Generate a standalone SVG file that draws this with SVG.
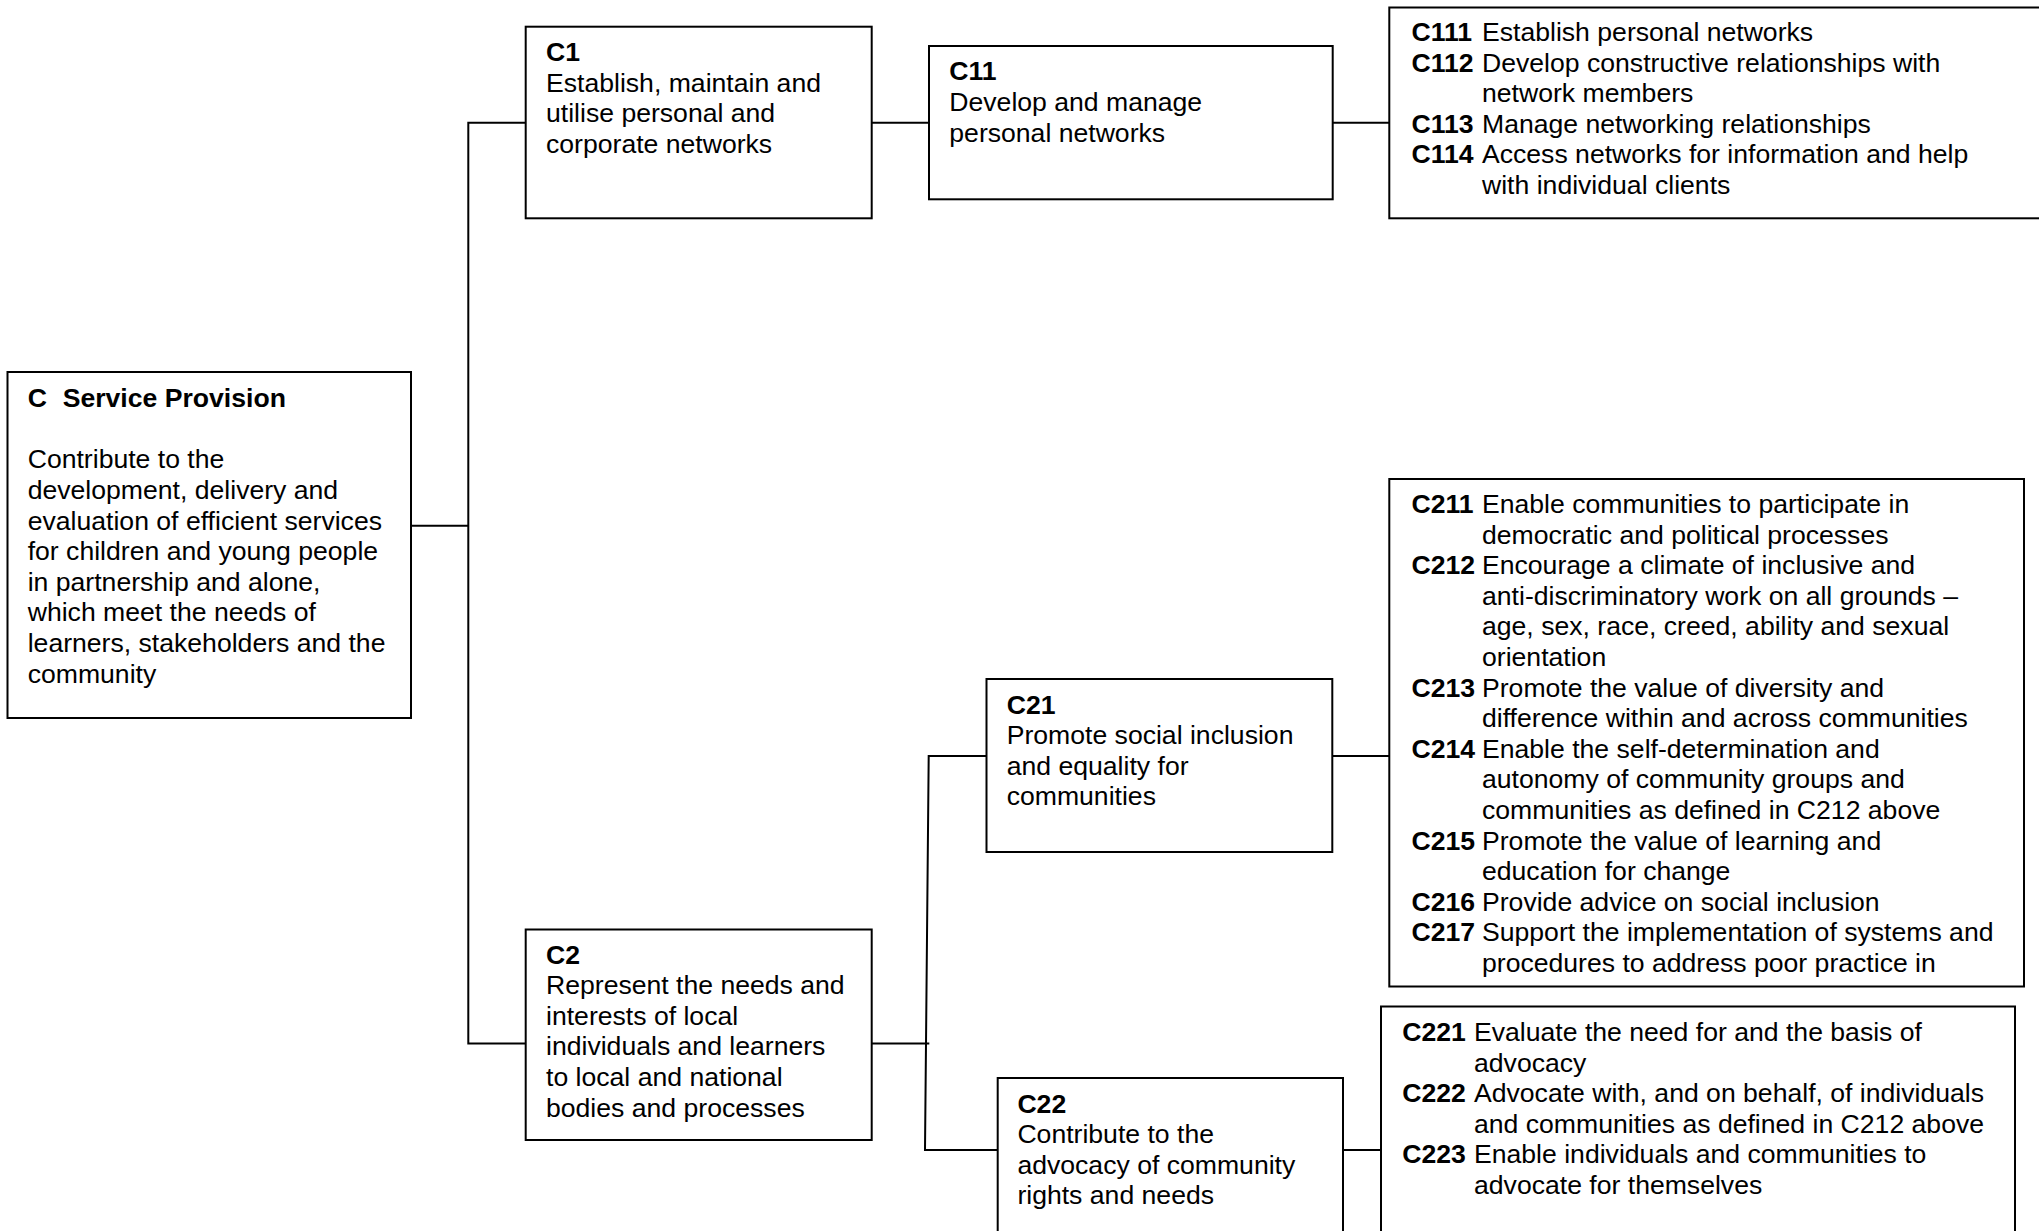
<svg xmlns="http://www.w3.org/2000/svg" width="2039" height="1231" viewBox="0 0 2039 1231">
  <style>
    .box { fill: #ffffff; stroke: #000000; stroke-width: 2; }
    .wire { fill: none; stroke: #000000; stroke-width: 2; }
    text { font-family: "Liberation Sans", Arial, sans-serif; font-size: 26.6px; fill: #000000; }
    .b { font-weight: bold; }
  </style>
  <rect x="0" y="0" width="2039" height="1231" fill="#ffffff"/>

  <!-- connectors -->
  <g id="connectors">
    <polyline class="wire" points="411,525.7 468.3,525.7"/>
    <polyline class="wire" points="525.7,122.7 468.3,122.7 468.3,1043.5 525.7,1043.5"/>
    <line class="wire" x1="871.7" y1="122.7" x2="929" y2="122.7"/>
    <line class="wire" x1="1332.7" y1="122.7" x2="1389.3" y2="122.7"/>
    <line class="wire" x1="871.7" y1="1043.5" x2="929.3" y2="1043.5"/>
    <polyline class="wire" points="986.5,756 928.7,756 925,1150 997.7,1150"/>
    <line class="wire" x1="1332.3" y1="756" x2="1389.3" y2="756"/>
    <line class="wire" x1="1343" y1="1150" x2="1381" y2="1150"/>
  </g>

  <!-- root: C -->
  <g id="node-C">
    <rect class="box" x="7.5" y="372" width="403.5" height="346"/>
    <text x="27.7" y="406.7" class="b">C<tspan x="62.7">Service Provision</tspan></text>
    <text x="27.7" y="468.3">Contribute to the</text>
    <text x="27.7" y="498.9">development, delivery and</text>
    <text x="27.7" y="529.5">evaluation of efficient services</text>
    <text x="27.7" y="560.1">for children and young people</text>
    <text x="27.7" y="590.7">in partnership and alone,</text>
    <text x="27.7" y="621.3">which meet the needs of</text>
    <text x="27.7" y="651.9">learners, stakeholders and the</text>
    <text x="27.7" y="682.5">community</text>
  </g>

  <!-- C1 -->
  <g id="node-C1">
    <rect class="box" x="525.7" y="26.7" width="346" height="191.6"/>
    <text x="546" y="61" class="b">C1</text>
    <text x="546" y="91.6">Establish, maintain and</text>
    <text x="546" y="122.2">utilise personal and</text>
    <text x="546" y="152.8">corporate networks</text>
  </g>

  <!-- C11 -->
  <g id="node-C11">
    <rect class="box" x="929" y="46" width="403.7" height="153.3"/>
    <text x="949.3" y="80.4" class="b">C11</text>
    <text x="949.3" y="111">Develop and manage</text>
    <text x="949.3" y="141.6">personal networks</text>
  </g>

  <!-- C111-C114 -->
  <g id="node-C11-list">
    <rect class="box" x="1389.3" y="7.5" width="660" height="210.8"/>
    <g class="b">
      <text x="1411.5" y="41">C111</text>
      <text x="1411.5" y="71.6">C112</text>
      <text x="1411.5" y="132.8">C113</text>
      <text x="1411.5" y="163.4">C114</text>
    </g>
    <text x="1482" y="41">Establish personal networks</text>
    <text x="1482" y="71.6">Develop constructive relationships with</text>
    <text x="1482" y="102.2">network members</text>
    <text x="1482" y="132.8">Manage networking relationships</text>
    <text x="1482" y="163.4">Access networks for information and help</text>
    <text x="1482" y="194">with individual clients</text>
  </g>

  <!-- C2 -->
  <g id="node-C2">
    <rect class="box" x="525.7" y="929.5" width="346" height="210.5"/>
    <text x="546" y="963.5" class="b">C2</text>
    <text x="546" y="994.1">Represent the needs and</text>
    <text x="546" y="1024.7">interests of local</text>
    <text x="546" y="1055.3">individuals and learners</text>
    <text x="546" y="1085.9">to local and national</text>
    <text x="546" y="1116.5">bodies and processes</text>
  </g>

  <!-- C21 -->
  <g id="node-C21">
    <rect class="box" x="986.5" y="679" width="345.8" height="173"/>
    <text x="1006.7" y="713.6" class="b">C21</text>
    <text x="1006.7" y="744.2">Promote social inclusion</text>
    <text x="1006.7" y="774.8">and equality for</text>
    <text x="1006.7" y="805.4">communities</text>
  </g>

  <!-- C211-C217 -->
  <g id="node-C21-list">
    <rect class="box" x="1389.3" y="479" width="634.7" height="507.5"/>
    <g class="b">
      <text x="1411.5" y="513">C211</text>
      <text x="1411.5" y="574.2">C212</text>
      <text x="1411.5" y="696.6">C213</text>
      <text x="1411.5" y="757.8">C214</text>
      <text x="1411.5" y="849.6">C215</text>
      <text x="1411.5" y="910.8">C216</text>
      <text x="1411.5" y="941.4">C217</text>
    </g>
    <text x="1482" y="513">Enable communities to participate in</text>
    <text x="1482" y="543.6">democratic and political processes</text>
    <text x="1482" y="574.2">Encourage a climate of inclusive and</text>
    <text x="1482" y="604.8">anti-discriminatory work on all grounds –</text>
    <text x="1482" y="635.4">age, sex, race, creed, ability and sexual</text>
    <text x="1482" y="666">orientation</text>
    <text x="1482" y="696.6">Promote the value of diversity and</text>
    <text x="1482" y="727.2">difference within and across communities</text>
    <text x="1482" y="757.8">Enable the self-determination and</text>
    <text x="1482" y="788.4">autonomy of community groups and</text>
    <text x="1482" y="819">communities as defined in C212 above</text>
    <text x="1482" y="849.6">Promote the value of learning and</text>
    <text x="1482" y="880.2">education for change</text>
    <text x="1482" y="910.8">Provide advice on social inclusion</text>
    <text x="1482" y="941.4">Support the implementation of systems and</text>
    <text x="1482" y="972">procedures to address poor practice in</text>
  </g>

  <!-- C22 -->
  <g id="node-C22">
    <rect class="box" x="997.7" y="1078" width="345.3" height="160"/>
    <text x="1017.4" y="1112.5" class="b">C22</text>
    <text x="1017.4" y="1143.1">Contribute to the</text>
    <text x="1017.4" y="1173.7">advocacy of community</text>
    <text x="1017.4" y="1204.3">rights and needs</text>
  </g>

  <!-- C221-C223 -->
  <g id="node-C22-list">
    <rect class="box" x="1381" y="1006.5" width="634" height="231.5"/>
    <g class="b">
      <text x="1402.3" y="1041">C221</text>
      <text x="1402.3" y="1102.2">C222</text>
      <text x="1402.3" y="1163.4">C223</text>
    </g>
    <text x="1474" y="1041">Evaluate the need for and the basis of</text>
    <text x="1474" y="1071.6">advocacy</text>
    <text x="1474" y="1102.2">Advocate with, and on behalf, of individuals</text>
    <text x="1474" y="1132.8">and communities as defined in C212 above</text>
    <text x="1474" y="1163.4">Enable individuals and communities to</text>
    <text x="1474" y="1194">advocate for themselves</text>
  </g>
</svg>
